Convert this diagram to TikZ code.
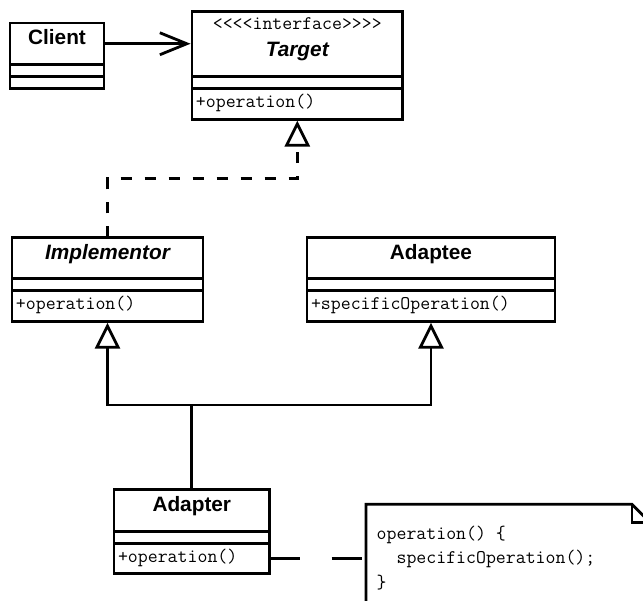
\documentclass[tikz,border=0pt]{standalone}
\usepackage{fontspec}
\setsansfont{Liberation Sans}
\usetikzlibrary{calc, arrows.meta}

\begin{document}
\begin{tikzpicture}[x=1pt, y=-1pt]
    \tikzstyle{classbox} = [rectangle, draw, line width=2.8pt, inner sep=0pt, outer sep=0pt, anchor=north]
    \tikzstyle{titlebox} = [classbox, minimum height=41.5pt, text height=15pt, text depth=12.5pt, font=\sffamily\bfseries\fontsize{20.8}{25}\selectfont]
    \tikzstyle{attrbox} = [classbox, minimum height=12pt]
    \tikzstyle{opsbox} = [classbox, minimum height=30.5pt, inner xsep=4pt, align=left, text height=14pt, text depth=6.5pt, font=\ttfamily\fontsize{19.3}{22}\selectfont]
    \tikzstyle{codetext} = [inner sep=0pt, anchor=base west, font=\ttfamily\fontsize{19.3}{22}\selectfont]
    \tikzstyle{association} = [line width=2.8pt, shorten >=1.4pt, -{Straight Barb[length=27pt, width=22pt]}]
    \tikzstyle{realization} = [line width=2.8pt, shorten >=1.4pt, dash pattern=on 11pt off 13pt, -{Triangle[open, length=26pt, width=25pt]}]
    \tikzstyle{generalization} = [line width=2.8pt, shorten >=1.4pt, -{Triangle[open, length=26pt, width=25pt]}]
    \tikzstyle{attachment} = [line width=2.8pt, dash pattern=on 30pt off 32pt]

    \useasboundingbox (0, 0) rectangle (643, 601);
    \clip (0, 0) rectangle (643, 601);

    % Classes ----------------------------------------
    \node (C1) at (57, 23) [titlebox, minimum width=94pt] {Client};
    \node (C2) at (C1.south) [attrbox, minimum width=94pt] {};
    \node (C3) at (C2.south) [attrbox, minimum width=94pt] {};

    \node (T1) at (297.3, 11.7) [titlebox, minimum width=210.7pt, minimum height=65pt, text height=25pt, text depth=0pt] {\itshape Target};
    \node (T0) at ($(T1.north) + (0, 18)$) [anchor=base, font=\ttfamily\fontsize{19.3}{22}\selectfont] {<<<<interface>>>>};
    \node (T2) at (T1.south) [attrbox, minimum width=210.7pt] {};
    \node (T3) at (T2.south) [opsbox, text width=202.7pt] {+operation()};

    \node (I1) at (107.5, 237.3) [titlebox, minimum width=191pt] {\itshape Implementor};
    \node (I2) at (I1.south) [attrbox, minimum width=191pt] {};
    \node (I3) at (I2.south) [opsbox, text width=183pt] {+operation()};

    \node (P1) at (431, 237.3) [titlebox, minimum width=248pt] {Adaptee};
    \node (P2) at (P1.south) [attrbox, minimum width=248pt] {};
    \node (P3) at (P2.south) [opsbox, text width=240pt] {+specificOperation()};

    \node (A1) at (191.8, 489.7) [titlebox, minimum width=155.5pt] {Adapter};
    \node (A2) at (A1.south) [attrbox, minimum width=155.5pt] {};
    \node (A3) at (A2.south) [opsbox, text width=147.5pt] {+operation()};
    % ---------------------------------------------------

    % Note
    \node (note) at (366, 504.3) [anchor=north west, minimum width=284pt, minimum height=125pt, inner sep=0pt, outer sep=0pt] {};
    \draw[line width=2.8pt] (note.south west) -- (note.north west) -- ($(note.north east) + (-18, 0)$)
        -- ($(note.north east) + (0, 18)$) -- (note.south east);
    \draw[line width=2.8pt] ($(note.north east) + (-18, 0)$) -- ($(note.north east) + (-18, 18)$)
        -- ($(note.north east) + (0, 18)$);
    \node (code1) at ($(note.north west) + (10.5, 35)$) [codetext] {operation() \{};
    \node (code2) at ($(code1.base west) + (0, 24.5)$) [codetext] {\hphantom{xx}specificOperation();};
    \node (code3) at ($(code2.base west) + (0, 24.5)$) [codetext] {\}};

    % Relations
    \draw[association] (C1.east) -- (C1.east -| T1.west);
    \draw[realization] (I1.north) |- ($(T3.south) + (0, 59.3)$) -- (T3.south);

    \coordinate (join) at ($(A1.north) + (0, -84.7)$);
    \draw[generalization] (A1.north) -- (join) -| (I3.south);
    \draw[generalization] (join) -| (P3.south);

    \draw[attachment] (A3.east) -- (A3.east -| note.west);
\end{tikzpicture}
\end{document}
